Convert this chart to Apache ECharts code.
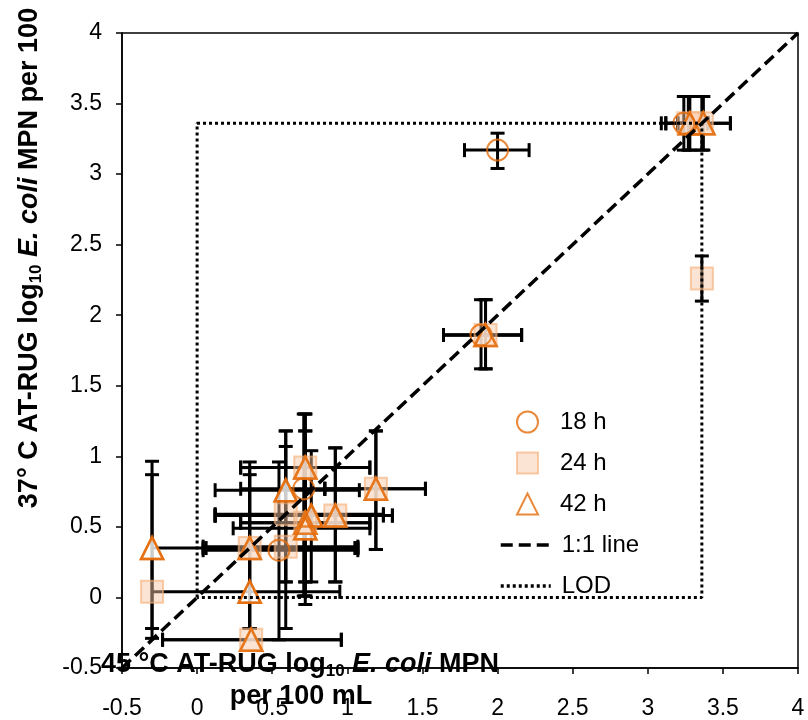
<!DOCTYPE html>
<html><head><meta charset="utf-8">
<script src="https://cdn.jsdelivr.net/npm/echarts@6/dist/echarts.min.js"></script>
<style>html,body{margin:0;padding:0;background:#fff}#c{width:808px;height:720px}</style>
</head><body><div id="c"></div>
<script>
// axis settings
const axisMin = -0.5, axisMax = 4, axisStep = 0.5;
const xTickLabels = ['-0.5','0','0.5','1','1.5','2','2.5','3','3.5','4'];
const yTickLabels = ['-0.5','0','0.5','1','1.5','2','2.5','3','3.5','4'];
const lod = 3.36;
const oneToOne = [[-0.5, -0.5], [4, 4]];

// 18 h
const h18X   = [3.24, 2.00, 1.89, 0.71, 0.545];
const h18Y   = [3.36, 3.17, 1.86, 0.77, 0.335];
const h18XLo = [3.09, 1.78, 1.64, 0.29, 0.04];
const h18XHi = [3.36, 2.21, 2.16, 0.85, 1.07];
const h18YLo = [3.17, 3.04, 1.62, 0.01, -0.30];
const h18YHi = [3.55, 3.29, 2.11, 1.30, 0.96];

// 24 h
const h24X   = [3.27, 3.36, 3.36, 1.92, 0.72, 0.59, 0.59, 0.72, 0.92, 1.19, 0.35, 0.36, -0.30];
const h24Y   = [3.36, 3.36, 2.26, 1.86, 0.92, 0.59, 0.36, 0.53, 0.58, 0.77, 0.35, -0.30, 0.04];
const h24XLo = [3.12, 3.20, 3.36, 1.64, 0.29, 0.12, 0.04, 0.29, 0.12, 0.85, 0.06, -0.23, -0.30];
const h24XHi = [3.40, 3.55, 3.36, 2.16, 1.15, 1.24, 1.07, 1.15, 1.30, 1.52, 1.05, 0.96, 0.95];
const h24YLo = [3.17, 3.17, 2.10, 1.62, 0.11, -0.22, 0.11, 0.01, 0.11, 0.34, -0.22, -0.30, -0.29];
const h24YHi = [3.55, 3.55, 2.42, 2.11, 1.30, 1.18, 1.07, 1.18, 1.06, 1.18, 0.96, -0.30, 0.87];

// 42 h
const h42X   = [3.28, 3.37, 1.92, 0.72, 0.59, 0.76, 0.72, 0.72, 0.92, 1.19, 0.35, 0.35, 0.36, -0.30];
const h42Y   = [3.36, 3.36, 1.86, 0.92, 0.76, 0.58, 0.53, 0.49, 0.58, 0.77, 0.35, 0.04, -0.30, 0.35];
const h42XLo = [3.12, 3.20, 1.64, 0.29, 0.12, 0.12, 0.29, 0.24, 0.12, 0.85, 0.04, 0.35, -0.23, -0.30];
const h42XHi = [3.40, 3.55, 2.16, 1.15, 1.08, 1.24, 1.15, 1.15, 1.30, 1.52, 1.07, 0.35, 0.96, 1.07];
const h42YLo = [3.17, 3.17, 1.62, 0.01, 0.11, 0.11, 0.11, -0.05, 0.11, 0.34, -0.22, -0.22, -0.30, -0.22];
const h42YHi = [3.55, 3.55, 2.11, 1.30, 1.18, 1.04, 1.18, 0.92, 1.06, 1.18, 0.92, 0.87, -0.30, 0.965];

const FONT = "'Liberation Sans', Arial, sans-serif";
const ORANGE = '#E46C0A';

function pts(xs, ys) { return xs.map((x, i) => [x, ys[i]]); }

function errorBars(name, xs, ys, xlo, xhi, ylo, yhi) {
  return {
    type: 'custom', name: name, silent: true, clip: true,
    data: xs.map((x, i) => [x, ys[i], xlo[i], xhi[i], ylo[i], yhi[i]]),
    encode: { x: 0, y: 1 },
    renderItem: function (params, api) {
      const x = api.value(0), y = api.value(1);
      const xl = api.value(2), xh = api.value(3), yl = api.value(4), yh = api.value(5);
      const cap = 7;
      const st = { stroke: '#000', lineWidth: 3 };
      const ch = [];
      const seg = (x1, y1, x2, y2) => ch.push({ type: 'line', shape: { x1, y1, x2, y2 }, style: st });
      if (xh > xl) {
        const a = api.coord([xl, y]), b = api.coord([xh, y]);
        seg(a[0], a[1], b[0], b[1]);
        if (xl < x) seg(a[0], a[1] - cap, a[0], a[1] + cap);
        if (xh > x) seg(b[0], b[1] - cap, b[0], b[1] + cap);
      }
      if (yh > yl) {
        const a = api.coord([x, yl]), b = api.coord([x, yh]);
        seg(a[0], a[1], b[0], b[1]);
        if (yl < y) seg(a[0] - cap, a[1], a[0] + cap, a[1]);
        if (yh > y) seg(b[0] - cap, b[1], b[0] + cap, b[1]);
      }
      return { type: 'group', children: ch };
    }
  };
}

const chart = echarts.init(document.getElementById('c'), null, { renderer: 'canvas' });

const tickFmt = (labels) => (v) => {
  const i = Math.round((v - axisMin) / axisStep);
  return labels[i] !== undefined ? labels[i] : '';
};

const richTitle = {
  b: { fontSize: 27, fontWeight: 'bold', fontFamily: FONT, lineHeight: 30, verticalAlign: 'middle' },
  s: { fontSize: 17, fontWeight: 'bold', fontFamily: FONT, lineHeight: 17, verticalAlign: 'bottom' },
  bi: { fontSize: 27, fontWeight: 'bold', fontStyle: 'italic', fontFamily: FONT, lineHeight: 30, verticalAlign: 'middle' }
};

const option = {
  animation: false,
  backgroundColor: '#fff',
  grid: { left: 122, right: 10, top: 33, bottom: 51, show: true, borderColor: '#000', borderWidth: 1.5, backgroundColor: 'transparent' },
  xAxis: {
    type: 'value', min: axisMin, max: axisMax, interval: axisStep,
    axisLine: { show: true, onZero: false, lineStyle: { color: '#000', width: 1.5 } },
    axisTick: { show: true, inside: false, length: 6, lineStyle: { color: '#000', width: 1.5 } },
    axisLabel: { color: '#000', fontSize: 23, fontFamily: FONT, margin: 29, formatter: tickFmt(xTickLabels) },
    splitLine: { show: false }
  },
  yAxis: {
    type: 'value', min: axisMin, max: axisMax, interval: axisStep,
    axisLine: { show: true, onZero: false, lineStyle: { color: '#000', width: 1.5 } },
    axisTick: { show: true, inside: false, length: 6, lineStyle: { color: '#000', width: 1.5 } },
    axisLabel: { color: '#000', fontSize: 23, fontFamily: FONT, margin: 20, formatter: tickFmt(yTickLabels) },
    splitLine: { show: false }
  },
  legend: [
    {
      data: ['18 h', '24 h', '42 h'], orient: 'vertical', left: 511, top: 405,
      itemWidth: 21, itemHeight: 21, itemGap: 17,
      textStyle: { color: '#000', fontSize: 24, fontFamily: FONT, padding: [0, 0, 0, 17] }
    },
    {
      data: ['1:1 line', 'LOD'], orient: 'vertical', left: 494, top: 528,
      itemWidth: 50, itemHeight: 14, itemGap: 17,
      itemStyle: { color: 'rgba(0,0,0,0)', borderColor: 'rgba(0,0,0,0)', borderWidth: 0, opacity: 0 },
      lineStyle: { width: 3.5 },
      textStyle: { color: '#000', fontSize: 24, fontFamily: FONT, padding: [0, 0, 0, 6] }
    }
  ],
  series: [
    {
      name: 'LOD', type: 'line', symbol: 'none', silent: true,
      data: [[0, 0], [0, lod], [lod, lod], [lod, 0], [0, 0]],
      itemStyle: { color: '#000' },
      lineStyle: { color: '#000', width: 3, type: [3, 3] }
    },
    {
      name: '1:1 line', type: 'line', symbol: 'none', silent: true,
      data: oneToOne,
      itemStyle: { color: '#000' },
      lineStyle: { color: '#000', width: 3.5, type: [12, 6] }
    },
    errorBars('42 h bars', h42X, h42Y, h42XLo, h42XHi, h42YLo, h42YHi),
    errorBars('24 h bars', h24X, h24Y, h24XLo, h24XHi, h24YLo, h24YHi),
    errorBars('18 h bars', h18X, h18Y, h18XLo, h18XHi, h18YLo, h18YHi),
    {
      name: '42 h', type: 'scatter', symbol: 'triangle', symbolSize: 22,
      data: pts(h42X, h42Y),
      itemStyle: { color: '#fff', borderColor: ORANGE, borderWidth: 2.5 }
    },
    {
      name: '24 h', type: 'scatter', symbol: 'rect', symbolSize: 22,
      data: pts(h24X, h24Y),
      itemStyle: { color: 'rgba(247,199,163,0.6)', borderColor: 'rgba(245,175,120,0.8)', borderWidth: 2 }
    },
    {
      name: '42 h outline', type: 'scatter', symbol: 'triangle', symbolSize: 22,
      data: pts(h42X, h42Y),
      itemStyle: { color: 'rgba(0,0,0,0)', borderColor: ORANGE, borderWidth: 2.5 }
    },
    {
      name: '18 h', type: 'scatter', symbol: 'circle', symbolSize: 21,
      data: pts(h18X, h18Y),
      itemStyle: { color: 'rgba(0,0,0,0)', borderColor: ORANGE, borderWidth: 2 }
    }
  ],
  graphic: [
    {
      type: 'text', x: 300, y: 665, z: 100,
      style: {
        text: '{b|45 °C AT-RUG log}{s|10}{bi| E. coli}{b| MPN}',
        align: 'center', verticalAlign: 'middle', textAlign: 'center', textVerticalAlign: 'middle',
        fill: '#000', rich: richTitle
      }
    },
    {
      type: 'text', x: 301, y: 697, z: 100,
      style: {
        text: 'per 100 mL', font: "bold 27px 'Liberation Sans', Arial, sans-serif",
        align: 'center', verticalAlign: 'middle', textAlign: 'center', textVerticalAlign: 'middle', fill: '#000'
      }
    },
    {
      type: 'text', x: 30, y: 258, rotation: Math.PI / 2, z: 100,
      style: {
        text: '{b|37° C AT-RUG log}{s|10}{bi| E. coli}{b| MPN per 100}',
        align: 'center', verticalAlign: 'middle', textAlign: 'center', textVerticalAlign: 'middle',
        fill: '#000', rich: richTitle
      }
    }
  ]
};
chart.setOption(option);
</script>
</body></html>
